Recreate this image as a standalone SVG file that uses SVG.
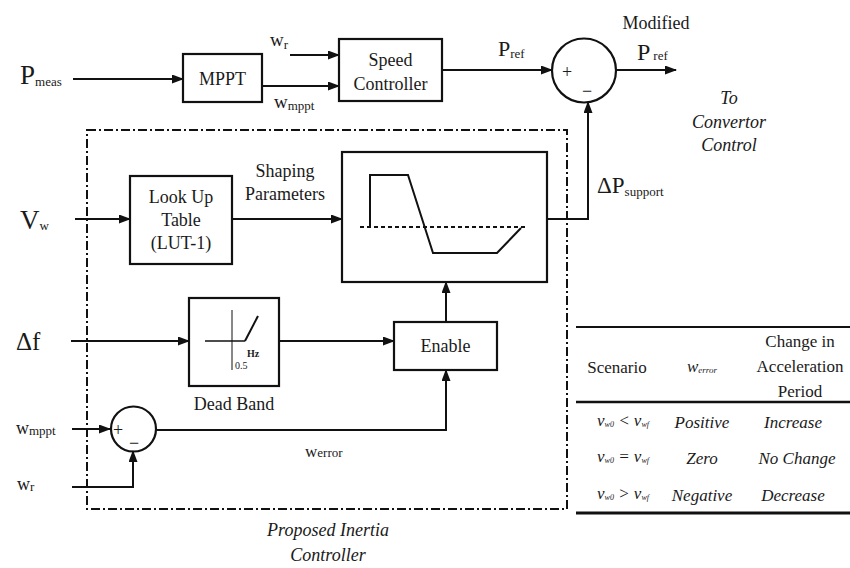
<svg xmlns="http://www.w3.org/2000/svg" width="850" height="568" viewBox="0 0 850 568" font-family="'Liberation Serif', 'DejaVu Serif', 'Times New Roman', serif">
  <style>
    text { font-family: 'Liberation Serif', 'DejaVu Serif', 'Times New Roman', serif; fill: #1a1a1a; }
    .box { fill: none; stroke: #111; stroke-width: 2.2; }
    .wire { fill: none; stroke: #111; stroke-width: 2; }
    .arrow { fill: none; stroke: #111; stroke-width: 2; marker-end: url(#arr); }
    .frame { fill: none; stroke: #111; stroke-width: 2; stroke-dasharray: 9 3 2 3; }
    .lbl { font-size: 18px; text-anchor: middle; }
    .ital { font-style: italic; }
    .big { font-size: 27px; }
    .sub { font-size: 13px; }
    .cell { font-size: 17px; text-anchor: middle; }
    .tiny { font-size: 10px; }
  </style>
  <defs>
    <marker id="arr" markerUnits="userSpaceOnUse" markerWidth="12" markerHeight="10" refX="11" refY="4.5" orient="auto">
      <path d="M0,0 L12,4.5 L0,9 z" fill="#111"/>
    </marker>
  </defs>
  <rect width="850" height="568" fill="#ffffff"/>

  <!-- dash-dot boundary of the inertia controller -->
  <rect id="controller-frame" class="frame" x="87" y="130" width="480" height="379"/>

  <!-- connectors -->
  <g id="connectors">
    <line class="arrow" x1="73" y1="79" x2="183" y2="79"/>
    <line class="arrow" x1="290" y1="55" x2="339" y2="55"/>
    <line class="arrow" x1="262" y1="86" x2="339" y2="86"/>
    <line class="arrow" x1="442" y1="70" x2="552" y2="70"/>
    <line class="arrow" x1="616" y1="70" x2="676" y2="70"/>
    <polyline class="arrow" points="547,219 588,219 588,102"/>
    <line class="arrow" x1="75" y1="219" x2="130" y2="219"/>
    <line class="arrow" x1="232" y1="219" x2="342" y2="219"/>
    <line class="arrow" x1="71" y1="341" x2="189" y2="341"/>
    <line class="arrow" x1="279" y1="341" x2="394" y2="341"/>
    <line class="arrow" x1="446" y1="322" x2="446" y2="282"/>
    <line class="arrow" x1="72" y1="429" x2="110" y2="429"/>
    <polyline class="arrow" points="72,487 133,487 133,451"/>
    <polyline class="arrow" points="157,430 446,430 446,370"/>
  </g>

  <!-- signal labels -->
  <g id="labels">
    <text x="20" y="84" class="big">P<tspan class="sub" dy="2">meas</tspan></text>
    <text x="270" y="46" font-size="19">w<tspan class="sub" dy="3">r</tspan></text>
    <text x="274" y="108" font-size="19">w<tspan class="sub" dy="2">mppt</tspan></text>
    <text x="498" y="56" font-size="22">P<tspan class="sub" dy="2">ref</tspan></text>
    <text x="656" y="29" class="lbl" font-size="17">Modified</text>
    <text x="637" y="60" font-size="24">P<tspan class="sub" dx="3" dy="0">ref</tspan></text>
    <text x="729" y="104" class="lbl ital" font-size="17">To</text>
    <text x="729" y="128" class="lbl ital" font-size="17">Convertor</text>
    <text x="729" y="151" class="lbl ital" font-size="17">Control</text>
    <text x="597" y="193" font-size="23">ΔP<tspan class="sub" dy="3">support</tspan></text>
    <text x="285" y="177" class="lbl" font-size="16">Shaping</text>
    <text x="285" y="200" class="lbl" font-size="16">Parameters</text>
    <text x="20" y="229" font-size="27">V<tspan class="sub" dy="1">w</tspan></text>
    <text x="16" y="350" font-size="25">Δf</text>
    <text x="16" y="434" font-size="18">w<tspan class="sub" dy="1">mppt</tspan></text>
    <text x="17" y="490" font-size="18">w<tspan class="sub" dy="1">r</tspan></text>
    <text x="305" y="457" font-size="17">w<tspan class="sub" dy="0">error</tspan></text>
    <text x="328" y="536" class="lbl ital" font-size="17">Proposed Inertia</text>
    <text x="328" y="561" class="lbl ital" font-size="17">Controller</text>
  </g>

  <!-- blocks -->
  <g id="mppt">
    <rect class="box" x="183" y="54" width="79" height="48"/>
    <text x="222.5" y="85" class="lbl" font-size="19">MPPT</text>
  </g>

  <g id="speed-controller">
    <rect class="box" x="339" y="39" width="103" height="62"/>
    <text x="390.5" y="66" class="lbl">Speed</text>
    <text x="390.5" y="90" class="lbl">Controller</text>
  </g>

  <g id="sum-pref">
    <circle class="box" cx="584" cy="70.5" r="32"/>
    <text x="567" y="78" class="lbl" font-size="17">+</text>
    <text x="587" y="97" class="lbl" font-size="17">−</text>
  </g>

  <g id="lut">
    <rect class="box" x="130" y="176" width="102" height="88"/>
    <text x="181" y="203" class="lbl" font-size="17">Look Up</text>
    <text x="181" y="226" class="lbl" font-size="17">Table</text>
    <text x="181" y="249" class="lbl" font-size="17">(LUT-1)</text>
  </g>

  <g id="shaping">
    <rect class="box" x="342" y="152" width="205" height="130"/>
    <line x1="360" y1="227" x2="528" y2="227" stroke="#111" stroke-width="2" stroke-dasharray="4 3"/>
    <polyline class="wire" points="370,227 370,175 408,175 433,253 497,253 521,228"/>
  </g>

  <g id="dead-band">
    <rect class="box" x="189" y="298" width="90" height="88"/>
    <line x1="205" y1="341" x2="245" y2="341" stroke="#111" stroke-width="1.4"/>
    <line x1="232" y1="310" x2="232" y2="370" stroke="#111" stroke-width="1"/>
    <line x1="245" y1="341" x2="258" y2="316" stroke="#111" stroke-width="2"/>
    <text x="247" y="357" class="tiny" font-weight="bold">Hz</text>
    <text x="235" y="369" class="tiny">0.5</text>
    <text x="234" y="410" class="lbl">Dead Band</text>
  </g>

  <g id="enable">
    <rect class="box" x="394" y="322" width="103" height="48"/>
    <text x="445.5" y="352" class="lbl">Enable</text>
  </g>

  <g id="sum-speed">
    <circle class="box" cx="133.5" cy="429" r="22.5"/>
    <text x="118" y="436" class="lbl" font-size="15">+</text>
    <text x="134" y="449" class="lbl" font-size="15">−</text>
  </g>

  <!-- scenario table -->
  <g id="scenario-table">
    <line x1="576" y1="327" x2="850" y2="327" stroke="#111" stroke-width="2"/>
    <line x1="576" y1="402" x2="850" y2="402" stroke="#111" stroke-width="2.5"/>
    <line x1="576" y1="513" x2="850" y2="513" stroke="#111" stroke-width="3"/>
    <text x="617" y="373" class="cell">Scenario</text>
    <text x="702" y="372" class="cell" font-size="13" font-style="italic">w<tspan font-size="9" dy="1">error</tspan></text>
    <text x="800" y="347" class="cell">Change in</text>
    <text x="800" y="372" class="cell">Acceleration</text>
    <text x="800" y="397" class="cell">Period</text>

    <text x="623" y="426" class="cell ital" font-size="11">v<tspan font-size="8" dy="1">w0</tspan><tspan dy="-1"> &lt; v</tspan><tspan font-size="8" dy="1">wf</tspan></text>
    <text x="702" y="428" class="cell ital">Positive</text>
    <text x="793" y="428" class="cell ital">Increase</text>

    <text x="623" y="462" class="cell ital" font-size="11">v<tspan font-size="8" dy="1">w0</tspan><tspan dy="-1"> = v</tspan><tspan font-size="8" dy="1">wf</tspan></text>
    <text x="702" y="464" class="cell ital">Zero</text>
    <text x="797" y="464" class="cell ital">No Change</text>

    <text x="623" y="499" class="cell ital" font-size="11">v<tspan font-size="8" dy="1">w0</tspan><tspan dy="-1"> &gt; v</tspan><tspan font-size="8" dy="1">wf</tspan></text>
    <text x="702" y="501" class="cell ital">Negative</text>
    <text x="793" y="501" class="cell ital">Decrease</text>
  </g>
</svg>
